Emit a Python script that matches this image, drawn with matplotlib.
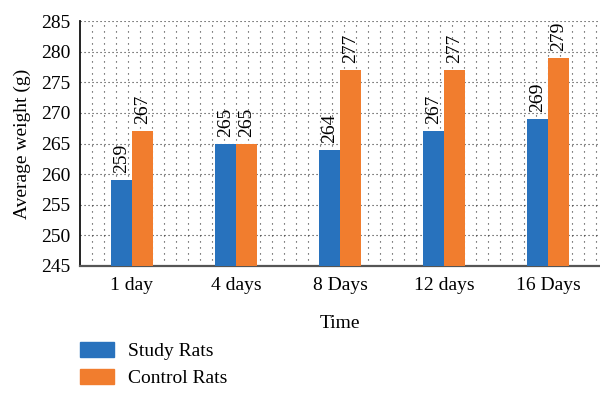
import numpy as np
import matplotlib
matplotlib.use("Agg")
import matplotlib.pyplot as plt
from matplotlib.patches import Patch

# weights per time point
days = ["1 day", "4 days", "8 Days", "12 days", "16 Days"]
study = [259, 265, 264, 267, 269]
control = [267, 265, 277, 277, 279]

blue = "#2872bd"
orange = "#f17d2e"

plt.rcParams["font.family"] = ["Liberation Serif", "DejaVu Serif"]
plt.rcParams["font.size"] = 14

fig = plt.figure(figsize=(6.0, 4.04), dpi=100)
ax = fig.add_axes([0.1333, 0.3416, 0.8667, 0.6064])

x = np.arange(len(days))
w = 0.2
b1 = ax.bar(x - w / 2, study, w, color=blue, zorder=3)
b2 = ax.bar(x + w / 2, control, w, color=orange, zorder=3)

# value labels, rotated
for bars, vals in ((b1, study), (b2, control)):
    for r, v in zip(bars, vals):
        ax.annotate(str(v), (r.get_x() + r.get_width() / 2, v),
                    xytext=(0, 5), textcoords="offset points",
                    rotation=90, ha="center", va="bottom", fontsize=14)

ax.set_ylim(245, 285)
ax.set_yticks(np.arange(245, 286, 5))
ax.set_xlim(-0.5, 4.5)
ax.set_xticks(x)
ax.set_xticklabels(days)

# dotted grid: horizontal at major ticks, dense vertical lines
for yv in np.arange(250, 286, 5):
    ax.axhline(yv, color="#333333", lw=0.8, dashes=(1, 2.6), zorder=1)
step = 12 / 104.0
for xv in np.arange(-0.5 + step, 4.5, step):
    ax.axvline(xv, color="#333333", lw=0.8, dashes=(1, 4.4), zorder=1)

for s in ("top", "right"):
    ax.spines[s].set_visible(False)
ax.spines["left"].set_color("#111111")
ax.spines["left"].set_linewidth(1.3)
ax.spines["bottom"].set_color("#555555")
ax.spines["bottom"].set_linewidth(1.6)
ax.tick_params(axis="both", length=0)
ax.tick_params(axis="y", pad=7)
ax.tick_params(axis="x", pad=8)

ax.set_ylabel("Average weight (g)", labelpad=7)
ax.set_xlabel("Time", labelpad=15)

handles = [Patch(color=blue, label="Study Rats"),
           Patch(color=orange, label="Control Rats")]
fig.legend(handles=handles, loc="upper left",
           bbox_to_anchor=(0.133, 0.153), frameon=False,
           handlelength=1.75, handleheight=0.8, handletextpad=0.75,
           labelspacing=0.45, borderaxespad=0, borderpad=0)

fig.savefig("out.png", dpi=100)
